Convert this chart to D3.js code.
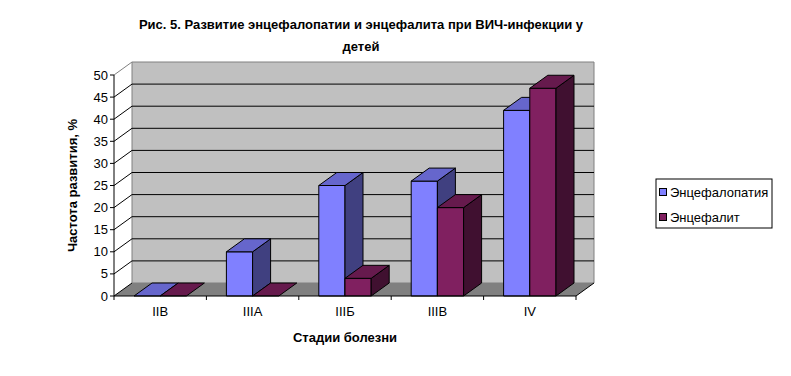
<!DOCTYPE html>
<html lang="ru">
<head>
<meta charset="utf-8">
<title>Рис. 5</title>
<script src="https://d3js.org/d3.v7.min.js"></script>
<style>
  body { margin: 0; background: #fff; }
  svg text { font-family: "Liberation Sans", Arial, sans-serif; fill: #000; }
</style>
</head>
<body>
<div id="chart"></div>
<script>
// data
var categories = ["IIВ", "IIIА", "IIIБ", "IIIВ", "IV"];
var seriesNames = ["Энцефалопатия", "Энцефалит"];
var encephalopathy = [0, 10, 25, 26, 42];
var encephalitis = [0, 0, 4, 20, 47];
var yTicks = [0, 5, 10, 15, 20, 25, 30, 35, 40, 45, 50];

var W = 791, H = 376;
var svg = d3.select("#chart").append("svg")
  .attr("width", W).attr("height", H);

// front plane + depth offset (fake 3d like old excel)
var x0 = 114, x1 = 576, dx = 18, dy = -13;
var y = d3.scaleLinear().domain([0, 50]).range([296, 75]);
var x = d3.scaleBand().domain(categories).range([x0, x1]).padding(0);
var inner = d3.scaleBand().domain([0, 1]).range([20, x.bandwidth() - 20]).padding(0);

var front = ["#8080ff", "#802060"];
var top_ = ["#6666cc", "#661a4d"];
var side = ["#404080", "#401030"];

var g = svg.append("g");

// back wall
g.append("polygon")
  .attr("points", [[x0 + dx, y(0) + dy], [x0 + dx, y(50) + dy], [x1 + dx, y(50) + dy], [x1 + dx, y(0) + dy]].join(" "))
  .attr("fill", "#c0c0c0").attr("stroke", "#808080");

// side wall top edge
g.append("line")
  .attr("x1", x0).attr("y1", y(50)).attr("x2", x0 + dx).attr("y2", y(50) + dy)
  .attr("stroke", "#808080");

// gridlines on back wall
yTicks.filter(function(t) { return t > 0 && t < 50; }).forEach(function(t) {
  g.append("line")
    .attr("x1", x0 + dx).attr("x2", x1 + dx)
    .attr("y1", y(t) + dy).attr("y2", y(t) + dy)
    .attr("stroke", "#000");
});

// floor
g.append("polygon")
  .attr("points", [[x0, y(0)], [x0 + dx, y(0) + dy], [x1 + dx, y(0) + dy], [x1, y(0)]].join(" "))
  .attr("fill", "#808080");
g.append("line")
  .attr("x1", x1).attr("y1", y(0)).attr("x2", x1 + dx).attr("y2", y(0) + dy)
  .attr("stroke", "#000");

// side wall gridlines
yTicks.filter(function(t) { return t < 50; }).forEach(function(t) {
  g.append("line")
    .attr("x1", x0).attr("x2", x0 + dx)
    .attr("y1", y(t)).attr("y2", y(t) + dy)
    .attr("stroke", "#000");
});

// bars
var rows = categories.map(function(c, i) {
  return [encephalopathy[i], encephalitis[i]];
});

var bars = g.append("g").attr("stroke", "#000").attr("stroke-width", 1).attr("stroke-linejoin", "round");
rows.forEach(function(vals, i) {
  vals.forEach(function(v, s) {
    var bx0 = x(categories[i]) + inner(s);
    var bx1 = bx0 + inner.bandwidth();
    var yt = y(v), yb = y(0);
    if (v > 0) {
      bars.append("rect")
        .attr("x", bx0).attr("y", yt)
        .attr("width", bx1 - bx0).attr("height", yb - yt)
        .attr("fill", front[s]);
      bars.append("polygon")
        .attr("points", [[bx1, yt], [bx1 + dx, yt + dy], [bx1 + dx, yb + dy], [bx1, yb]].join(" "))
        .attr("fill", side[s]);
    }
    bars.append("polygon")
      .attr("points", [[bx0, yt], [bx0 + dx, yt + dy], [bx1 + dx, yt + dy], [bx1, yt]].join(" "))
      .attr("fill", top_[s]);
  });
});

// value axis
var yAxis = svg.append("g");
yAxis.append("line")
  .attr("x1", x0).attr("x2", x0).attr("y1", y(0)).attr("y2", y(50))
  .attr("stroke", "#000");
yAxis.selectAll(".tick").data(yTicks).enter().append("line")
  .attr("x1", x0 - 4).attr("x2", x0)
  .attr("y1", function(d) { return y(d); }).attr("y2", function(d) { return y(d); })
  .attr("stroke", "#000");
yAxis.selectAll("text").data(yTicks).enter().append("text")
  .attr("x", x0 - 6).attr("y", function(d) { return y(d); })
  .attr("dy", "0.35em").attr("text-anchor", "end")
  .attr("font-size", 13)
  .text(function(d) { return d; });

// category axis
var xAxis = svg.append("g");
xAxis.append("line")
  .attr("x1", x0).attr("x2", x1).attr("y1", y(0)).attr("y2", y(0))
  .attr("stroke", "#000");
var edges = categories.map(function(c) { return x(c); }).concat([x1]);
xAxis.selectAll(".tick").data(edges).enter().append("line")
  .attr("x1", function(d) { return d; }).attr("x2", function(d) { return d; })
  .attr("y1", y(0)).attr("y2", y(0) + 4)
  .attr("stroke", "#000");
xAxis.selectAll("text").data(categories).enter().append("text")
  .attr("x", function(d) { return x(d) + x.bandwidth() / 2; })
  .attr("y", 316).attr("text-anchor", "middle")
  .attr("font-size", 13)
  .text(function(d) { return d; });

// titles
var title = svg.append("text").attr("text-anchor", "middle")
  .attr("font-size", 13).attr("font-weight", "bold");
title.append("tspan").attr("x", 361).attr("y", 29)
  .text("Рис. 5. Развитие энцефалопатии и энцефалита при ВИЧ-инфекции у");
title.append("tspan").attr("x", 361).attr("y", 51).text("детей");

svg.append("text")
  .attr("x", (x0 + x1) / 2).attr("y", 342)
  .attr("text-anchor", "middle").attr("font-size", 13).attr("font-weight", "bold")
  .text("Стадии болезни");

svg.append("text")
  .attr("transform", "translate(77," + ((y(0) + y(50)) / 2) + ") rotate(-90)")
  .attr("text-anchor", "middle").attr("font-size", 13).attr("font-weight", "bold")
  .text("Частота развития, %");

// legend
var lg = svg.append("g").attr("transform", "translate(656,179)");
lg.append("rect").attr("width", 116).attr("height", 49)
  .attr("fill", "#fff").attr("stroke", "#000");
seriesNames.forEach(function(name, i) {
  lg.append("rect")
    .attr("x", 3.5).attr("y", 9.5 + i * 25).attr("width", 7).attr("height", 7)
    .attr("fill", front[i]).attr("stroke", "#000");
  lg.append("text")
    .attr("x", 14).attr("y", 13 + i * 25).attr("dy", "0.35em")
    .attr("font-size", 13)
    .text(name);
});
</script>
</body>
</html>
